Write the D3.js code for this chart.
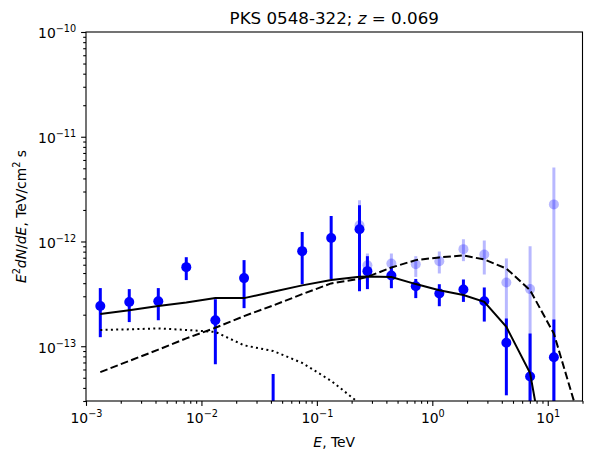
<!DOCTYPE html>
<html><head><meta charset="utf-8">
<script src="https://cdn.jsdelivr.net/npm/d3@7"></script>
<style>
body{margin:0;background:#fff}
svg{display:block}
text{font-family:"DejaVu Sans",sans-serif;fill:#000}
</style>
</head><body>
<svg id="chart" width="591" height="461"></svg>
<script>
// ---------------- data ----------------
const energies = [1.33e-3, 2.37e-3, 4.23e-3, 7.39e-3, 1.32e-2, 2.34e-2, 4.18e-2, 7.46e-2, 0.133, 0.234,
                  0.274, 0.442, 0.719, 1.15, 1.86, 2.82, 4.38, 7.03, 11.3];
const flux    = [2.42e-13, 2.64e-13, 2.69e-13, 5.69e-13, 1.77e-13, 4.47e-13, 1e-15, 8.09e-13, 1.08e-12, 1.31e-12,
                 5.21e-13, 4.74e-13, 3.74e-13, 3.19e-13, 3.48e-13, 2.69e-13, 1.08e-13, 5.14e-14, 7.85e-14];
const fluxHi  = [3.59e-13, 3.51e-13, 3.59e-13, 7.08e-13, 2.81e-13, 6.64e-13, 5.42e-14, 1.23e-12, 1.75e-12, 2.22e-12,
                 7.24e-13, 5.73e-13, 4.39e-13, 3.91e-13, 4.34e-13, 3.64e-13, 1.84e-13, 1.32e-13, 1.80e-13];
const fluxLo  = [1.22e-13, 1.70e-13, 1.77e-13, 4.28e-13, 6.73e-14, 2.31e-13, 1e-16, 3.91e-13, 4.37e-13, 3.35e-13,
                 3.51e-13, 3.58e-13, 2.88e-13, 2.41e-13, 2.65e-13, 1.72e-13, 3.40e-14, 1e-16, 1e-16];

// EBL-deabsorbed points (faint)
const deabsEnergies = [0.234, 0.274, 0.442, 0.719, 1.15, 1.86, 2.82, 4.38, 7.03, 11.3];
const deabsFlux   = [1.43e-12, 5.94e-13, 6.17e-13, 6.07e-13, 6.49e-13, 8.45e-13, 7.52e-13, 4.06e-13, 3.51e-13, 2.26e-12];
const deabsHi     = [2.48e-12, 7.69e-13, 7.69e-13, 7.24e-13, 8.03e-13, 1.05e-12, 1.02e-12, 6.89e-13, 9.02e-13, 5.09e-12];
const deabsLo     = [3.66e-13, 4.10e-13, 4.95e-13, 4.59e-13, 4.95e-13, 6.49e-13, 4.84e-13, 1.27e-13, 1e-16, 1e-16];

// model curves
const modelEnergies = [1.33e-3, 2.37e-3, 4.23e-3, 7.39e-3, 1.32e-2, 2.34e-2, 4.18e-2, 7.46e-2, 0.133, 0.234,
                       0.274, 0.442, 0.719, 1.15, 1.86, 2.82, 4.38, 7.03, 11.3, 17.8];
const modelTotal     = [2.03e-13, 2.21e-13, 2.42e-13, 2.61e-13, 2.88e-13, 2.88e-13, 3.31e-13, 3.81e-13, 4.28e-13, 4.60e-13,
                        4.63e-13, 4.58e-13, 3.92e-13, 3.43e-13, 3.08e-13, 2.65e-13, 1.53e-13, 5.54e-14, 3e-15, 1e-16];
const modelIntrinsic = [5.66e-14, 7.24e-14, 9.27e-14, 1.19e-13, 1.50e-13, 1.94e-13, 2.45e-13, 3.14e-13, 3.98e-13, 4.40e-13,
                        4.60e-13, 5.64e-13, 6.64e-13, 7.05e-13, 7.36e-13, 6.73e-13, 5.52e-13, 3.43e-13, 1.32e-13, 2.45e-14];
const modelCascade   = [1.43e-13, 1.45e-13, 1.48e-13, 1.43e-13, 1.37e-13, 1.02e-13, 9.0e-14, 6.93e-14, 4.67e-14, 2.85e-14,
                        2.4e-14, 8e-15, 2e-15, 5e-16, 1e-16, 1e-16, 1e-16, 1e-16, 1e-16, 1e-16];

const xTickExps = [-3, -2, -1, 0, 1];
const yTickExps = [-13, -12, -11, -10];
const titleText = "PKS 0548-322; ";
const redshift = "0.069";

// ---------------- layout ----------------
const svg = d3.select("#chart");
const L = 86, R = 582.5, T = 32, B = 401;
const x = d3.scaleLog().domain([1e-3, 20]).range([L, R]);
const y = d3.scaleLog().domain([3e-14, 1e-10]).range([B, T]);

svg.append("defs").append("clipPath").attr("id", "clip")
  .append("rect").attr("x", L).attr("y", T).attr("width", R - L).attr("height", B - T);

const plot = svg.append("g").attr("clip-path", "url(#clip)");
const blue = "#0000ff";

// faint points
plot.selectAll("line.fe").data(deabsEnergies).join("line")
  .attr("x1", (d) => x(d)).attr("x2", (d) => x(d))
  .attr("y1", (d, i) => y(deabsLo[i])).attr("y2", (d, i) => y(deabsHi[i]))
  .attr("stroke", blue).attr("stroke-opacity", 0.28).attr("stroke-width", 3);
plot.selectAll("circle.fp").data(deabsEnergies).join("circle")
  .attr("cx", (d) => x(d)).attr("cy", (d, i) => y(deabsFlux[i])).attr("r", 5)
  .attr("fill", blue).attr("fill-opacity", 0.28);

// observed points
const g2 = plot.append("g");
g2.selectAll("line").data(energies).join("line")
  .attr("x1", (d) => x(d)).attr("x2", (d) => x(d))
  .attr("y1", (d, i) => y(fluxLo[i])).attr("y2", (d, i) => y(fluxHi[i]))
  .attr("stroke", blue).attr("stroke-width", 3);
g2.selectAll("circle").data(energies).join("circle")
  .attr("cx", (d) => x(d)).attr("cy", (d, i) => y(flux[i])).attr("r", 5)
  .attr("fill", blue);

// model lines
function drawLine(vals, dash) {
  const line = d3.line().x((d) => x(d)).y((d, i) => y(vals[i]));
  plot.append("path").datum(modelEnergies).attr("d", line)
    .attr("fill", "none").attr("stroke", "#000").attr("stroke-width", 2)
    .attr("stroke-dasharray", dash);
}
drawLine(modelTotal, null);
drawLine(modelIntrinsic, "7.7,3.3");
drawLine(modelCascade, "2,3.3");

// ---------------- axes ----------------
function supLabel(sel, exp) {
  sel.text(null);
  sel.append("tspan").text("10");
  const s = exp < 0 ? "\u2212" + Math.abs(exp) : String(exp);
  sel.append("tspan").attr("dy", -6).attr("font-size", "9.7px").text(s);
}
const fmtNone = () => "";

const xMinor = [];
for (let e = -3; e <= 1; e++) for (let m = 2; m <= 9; m++) { const v = m * Math.pow(10, e); if (v <= 20) xMinor.push(v); }
const yMinor = [];
for (let e = -14; e <= -11; e++) for (let m = 2; m <= 9; m++) { const v = m * Math.pow(10, e); if (v >= 3e-14 && v <= 1e-10) yMinor.push(v); }

const xMajorVals = xTickExps.map((e) => Math.pow(10, e));
const yMajorVals = yTickExps.map((e) => Math.pow(10, e));

const gx = svg.append("g").attr("transform", `translate(0,${B})`);
gx.call(d3.axisBottom(x).tickValues(xMinor).tickSize(2.8).tickFormat(fmtNone));
gx.call((g) => g.select(".domain").remove());
const gxM = svg.append("g").attr("transform", `translate(0,${B})`)
  .call(d3.axisBottom(x).tickValues(xMajorVals).tickSize(4.9).tickPadding(4.9).tickFormat(fmtNone));
gxM.select(".domain").remove();
gxM.selectAll(".tick text").attr("font-size", "13.9px").attr("font-family", "DejaVu Sans")
  .attr("dy", "0.9em")
  .each(function(d, i) { supLabel(d3.select(this), xTickExps[i]); });

const gy = svg.append("g").attr("transform", `translate(${L},0)`);
gy.call(d3.axisLeft(y).tickValues(yMinor).tickSize(2.8).tickFormat(fmtNone));
gy.call((g) => g.select(".domain").remove());
const gyM = svg.append("g").attr("transform", `translate(${L},0)`)
  .call(d3.axisLeft(y).tickValues(yMajorVals).tickSize(4.9).tickPadding(4.9).tickFormat(fmtNone));
gyM.select(".domain").remove();
gyM.selectAll(".tick text").attr("font-size", "13.9px").attr("font-family", "DejaVu Sans")
  .attr("dy", "0.42em")
  .each(function(d, i) { supLabel(d3.select(this), yTickExps[i]); });

svg.selectAll(".tick line").attr("stroke", "#000").attr("stroke-width", 1.1);

// frame
svg.append("rect").attr("x", L).attr("y", T).attr("width", R - L).attr("height", B - T)
  .attr("fill", "none").attr("stroke", "#000").attr("stroke-width", 1.1);

// ---------------- text ----------------
const title = svg.append("text").attr("x", (L + R) / 2).attr("y", 24)
  .attr("text-anchor", "middle").attr("font-size", "16.7px");
title.append("tspan").text(titleText);
title.append("tspan").attr("font-style", "italic").text("z");
title.append("tspan").text(" = " + redshift);

const xl = svg.append("text").attr("x", (L + R) / 2).attr("y", 447)
  .attr("text-anchor", "middle").attr("font-size", "13.9px");
xl.append("tspan").attr("font-style", "italic").text("E");
xl.append("tspan").text(", TeV");

const yl = svg.append("text").attr("transform", `translate(26,${(T + B) / 2}) rotate(-90)`)
  .attr("text-anchor", "middle").attr("font-size", "13.9px");
yl.append("tspan").attr("font-style", "italic").text("E");
yl.append("tspan").attr("dy", -6).attr("font-size", "9.7px").text("2");
yl.append("tspan").attr("dy", 6).attr("font-style", "italic").text("dN");
yl.append("tspan").text("/");
yl.append("tspan").attr("font-style", "italic").text("dE");
yl.append("tspan").text(", TeV/cm");
yl.append("tspan").attr("dy", -6).attr("font-size", "9.7px").text("2");
yl.append("tspan").attr("dy", 6).text(" s");
</script>
</body></html>
